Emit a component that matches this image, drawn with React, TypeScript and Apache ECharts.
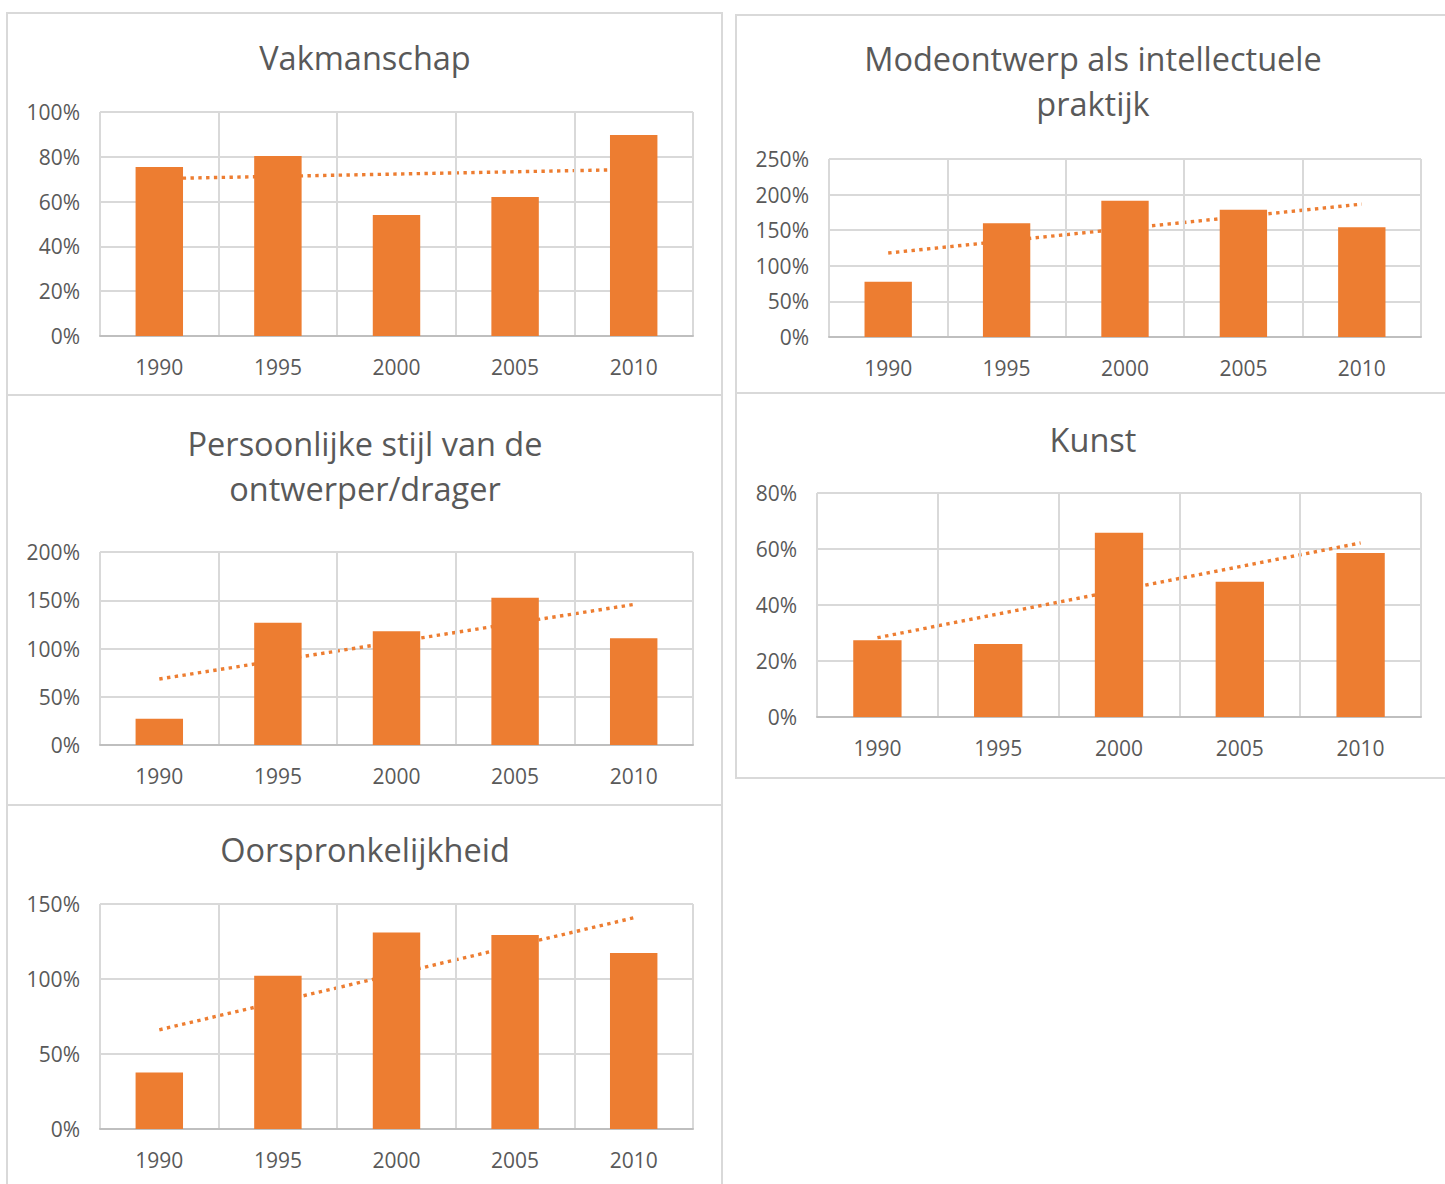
import React, { useEffect, useRef } from "react";
import * as echarts from "echarts";

// ---- data (values in percent) ----
const years = ["1990", "1995", "2000", "2005", "2010"];
const vakmanschap = [75.4, 80.4, 54, 62, 89.7];
const modeontwerp = [77.7, 159.7, 191.4, 178.8, 154];
const persoonlijkeStijl = [27.2, 126.6, 118, 152.6, 110.7];
const kunst = [27.4, 26.1, 65.8, 48.3, 58.6];
const oorspronkelijkheid = [37.6, 102.1, 131, 129.3, 117.3];

const titleTexts = [
  "Vakmanschap",
  "Modeontwerp als intellectuele\npraktijk",
  "Persoonlijke stijl van de\nontwerper/drager",
  "Kunst",
  "Oorspronkelijkheid",
];
const yMaxes = [100, 250, 200, 80, 150];
const ySteps = [20, 50, 50, 20, 50];
const seriesList = [vakmanschap, modeontwerp, persoonlijkeStijl, kunst, oorspronkelijkheid];

// ---- layout ----
const layouts = [
  { grid: { left: 100, top: 112, width: 593, height: 224 }, box: [7, 13, 715, 382], title: [365, 57] },
  { grid: { left: 829, top: 159, width: 592, height: 178 }, box: [736, 15, 730, 378], title: [1093, 81] },
  { grid: { left: 100, top: 552, width: 593, height: 193 }, box: [7, 395, 715, 410], title: [365, 466] },
  { grid: { left: 817, top: 493, width: 604, height: 224 }, box: [736, 393, 730, 385], title: [1093, 439] },
  { grid: { left: 100, top: 904, width: 593, height: 225 }, box: [7, 805, 715, 420], title: [365, 849] },
];

const ORANGE = "#ED7D31";
const TEXT = "#595959";
const GRID = "#D9D9D9";
const FONT = "'Open Sans', sans-serif";

// linear least-squares trendline (as Excel's linear trendline)
function trend(vals: number[]): number[] {
  const n = vals.length;
  const xs = vals.map((_, i) => i);
  const mx = xs.reduce((a, b) => a + b, 0) / n;
  const my = vals.reduce((a, b) => a + b, 0) / n;
  let num = 0;
  let den = 0;
  xs.forEach((x, i) => {
    num += (x - mx) * (vals[i] - my);
    den += (x - mx) * (x - mx);
  });
  const slope = num / den;
  const icpt = my - slope * mx;
  return xs.map((x) => icpt + slope * x);
}

export default function App() {
  const ref = useRef<HTMLDivElement>(null);
  useEffect(() => {
    if (!ref.current) return;
    const chart = echarts.init(ref.current, undefined, { renderer: "svg" });
    const grids: any[] = [];
    const xAxes: any[] = [];
    const yAxes: any[] = [];
    const series: any[] = [];
    const graphics: any[] = [];
    layouts.forEach((lay, i) => {
      grids.push({ ...lay.grid, containLabel: false });
      xAxes.push({
        type: "category",
        gridIndex: i,
        data: years,
        boundaryGap: true,
        axisLine: { show: true, lineStyle: { color: "#BFBFBF", width: 2 } },
        axisTick: { show: false },
        axisLabel: { color: TEXT, fontSize: 21, fontFamily: FONT, margin: 20 },
        splitLine: { show: true, lineStyle: { color: GRID, width: 2 } },
        z: 3,
      });
      yAxes.push({
        type: "value",
        gridIndex: i,
        min: 0,
        max: yMaxes[i],
        interval: ySteps[i],
        axisLine: { show: false },
        axisTick: { show: false },
        axisLabel: { color: TEXT, fontSize: 21, fontFamily: FONT, margin: 20, formatter: "{value}%" },
        splitLine: { show: true, lineStyle: { color: GRID, width: 2 } },
      });
      series.push({
        type: "bar",
        xAxisIndex: i,
        yAxisIndex: i,
        data: seriesList[i],
        barWidth: "40%",
        itemStyle: { color: ORANGE },
        z: 3,
      });
      series.push({
        type: "line",
        xAxisIndex: i,
        yAxisIndex: i,
        data: trend(seriesList[i]),
        symbol: "none",
        lineStyle: { color: ORANGE, width: 3.4, type: [3.4, 4.4] },
        z: 2,
      });
      const [bx, by, bw, bh] = lay.box;
      graphics.push({
        type: "rect",
        shape: { x: bx, y: by, width: bw, height: bh },
        style: { fill: "none", stroke: GRID, lineWidth: 2 },
        z: 0,
      });
      graphics.push({
        type: "text",
        x: lay.title[0],
        y: lay.title[1],
        style: {
          text: titleTexts[i],
          fill: TEXT,
          font: `32.5px ${FONT}`,
          fontSize: 32.5,
          fontFamily: FONT,
          align: "center",
          verticalAlign: "middle",
          lineHeight: 45,
        },
        z: 10,
      });
    });
    chart.setOption({
      animation: false,
      backgroundColor: "#ffffff",
      grid: grids,
      xAxis: xAxes,
      yAxis: yAxes,
      series,
      graphic: graphics,
    });
    return () => chart.dispose();
  }, []);
  return (
    <div
      ref={ref}
      style={{ position: "absolute", left: 0, top: 0, width: 1445, height: 1184, background: "#fff" }}
    />
  );
}
